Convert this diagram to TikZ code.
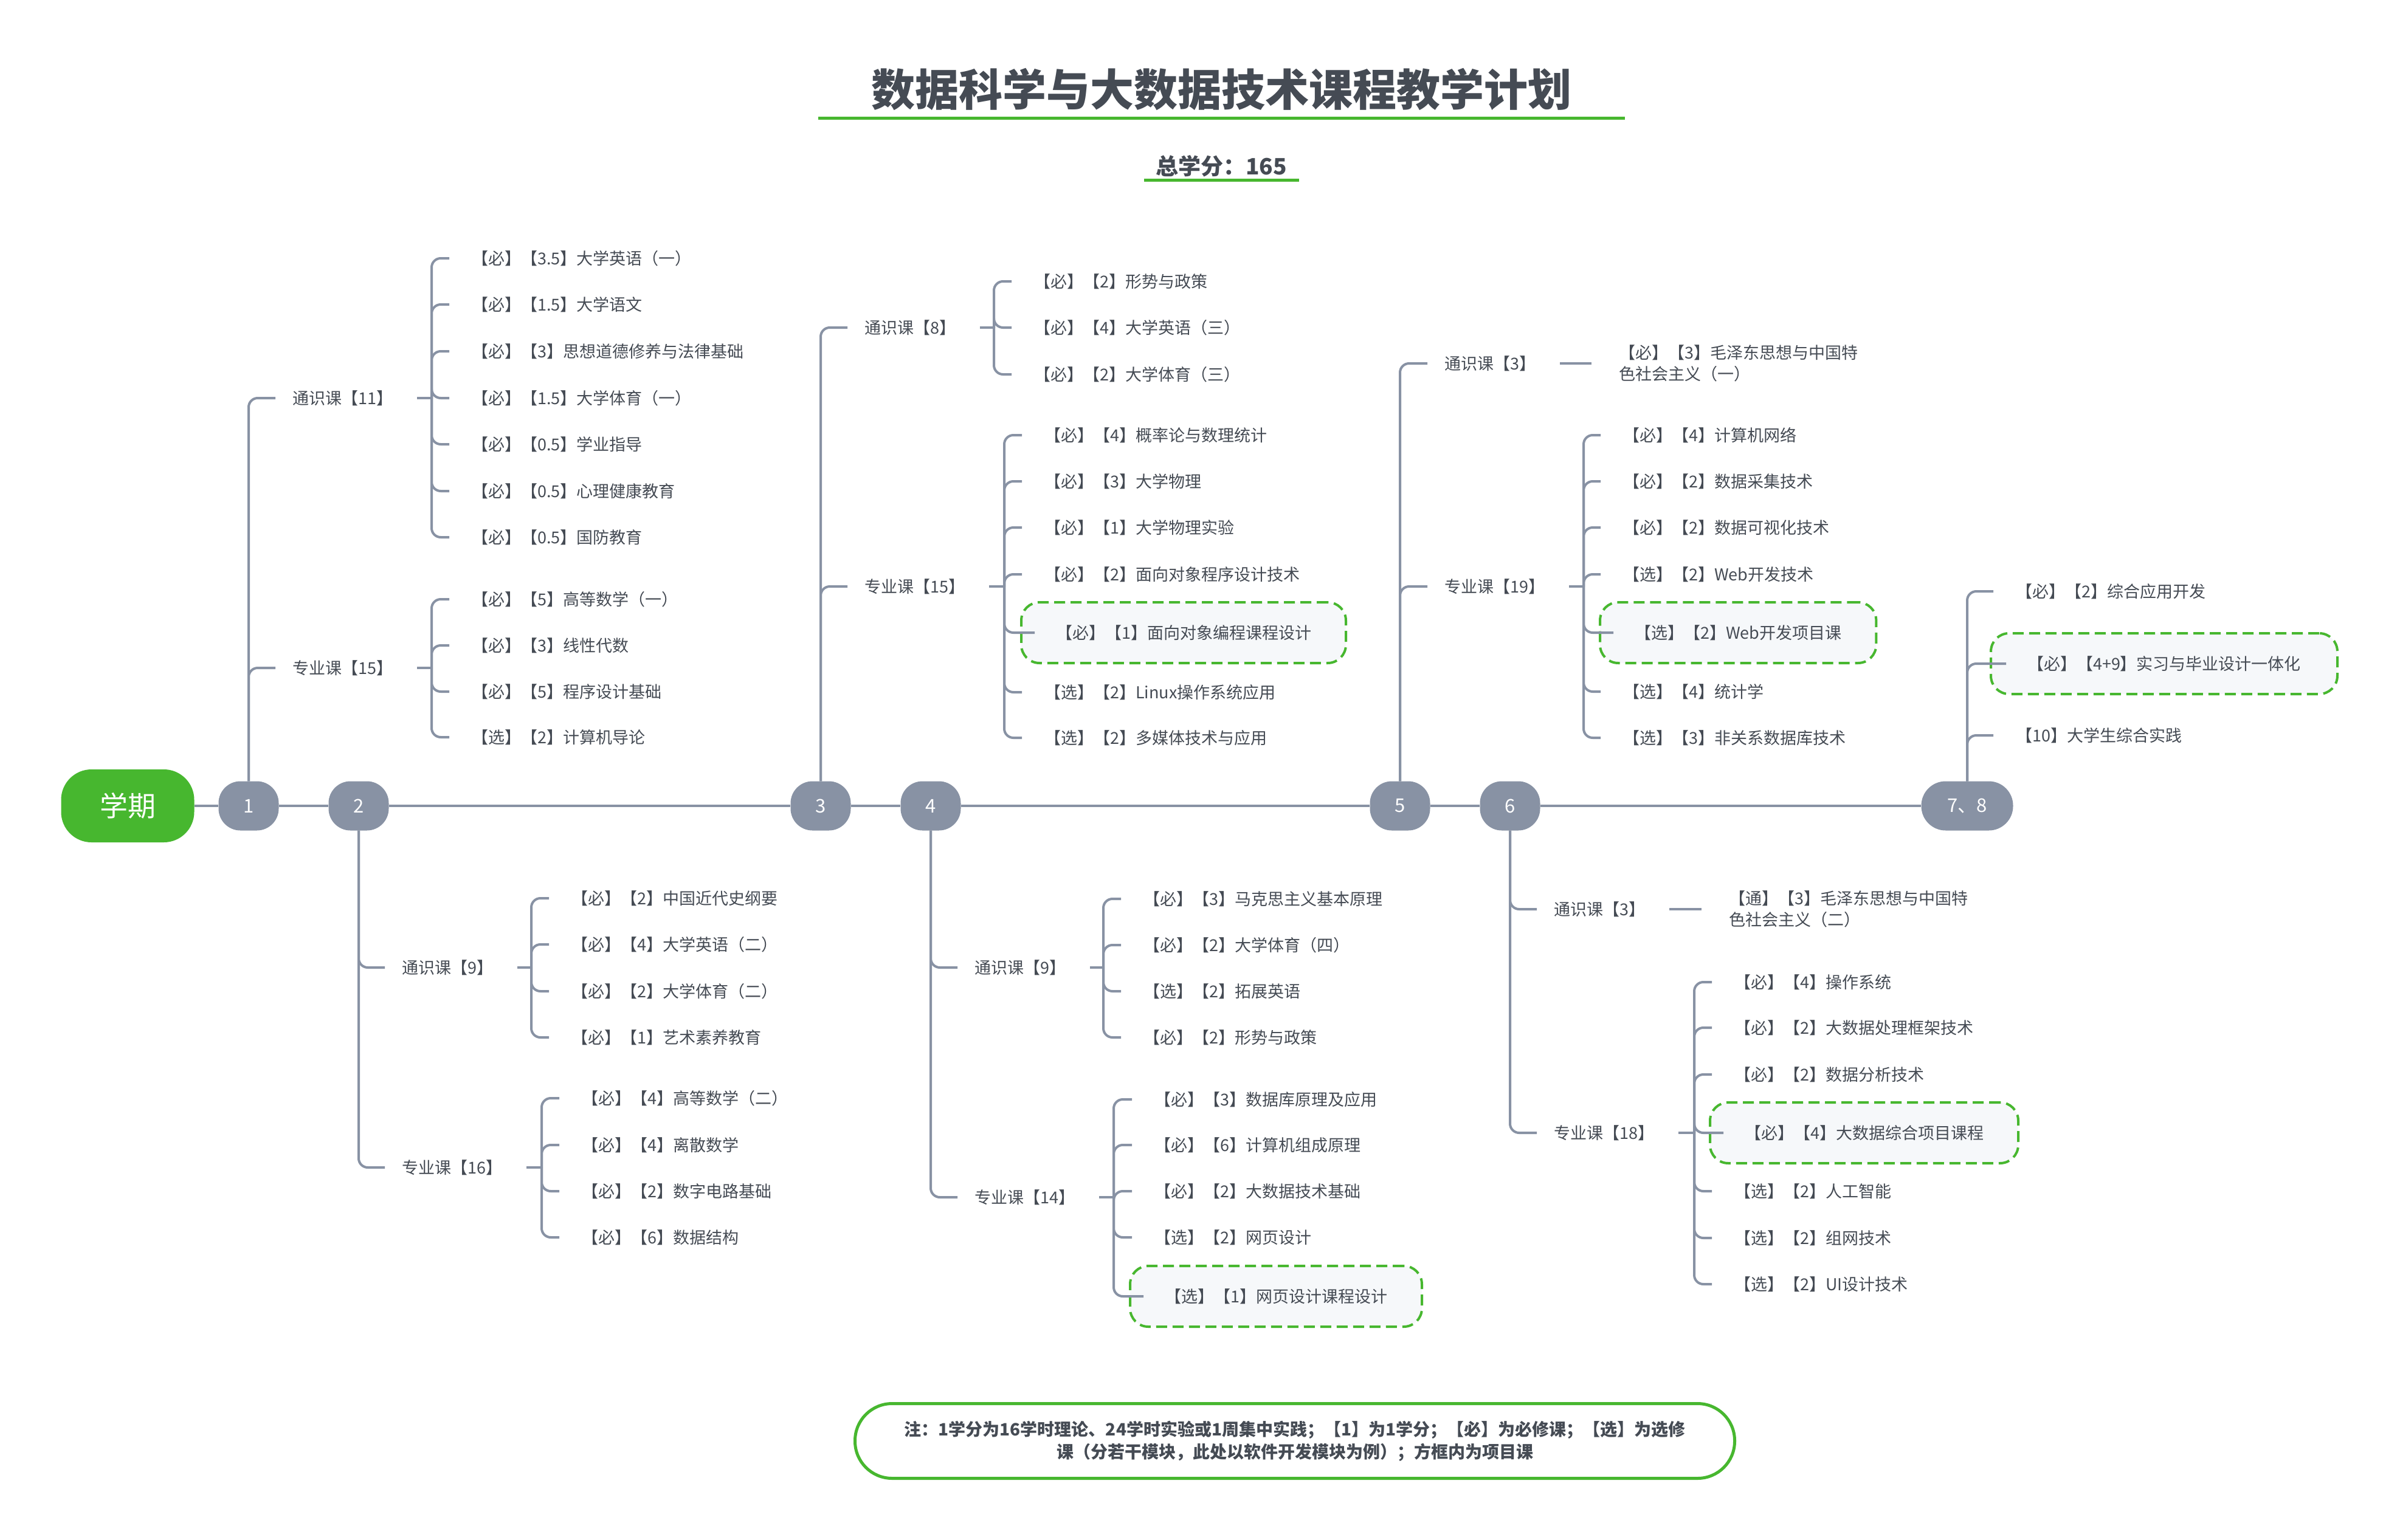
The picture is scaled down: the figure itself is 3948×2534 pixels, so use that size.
\documentclass[tikz,border=0pt]{standalone}
\usepackage{fontspec}
\setmainfont{Noto Sans CJK SC}
\definecolor{tdark}{HTML}{454B54}
\definecolor{lgrey}{HTML}{8892A4}
\definecolor{hgreen}{HTML}{47B72F}
\definecolor{boxfill}{HTML}{F6F8FA}
\begin{document}
\begin{tikzpicture}[x=1pt,y=-1pt,
  base/.style={font=\fontsize{27}{35}\selectfont, text=tdark},
  cat/.style={base, anchor=west, inner sep=0pt, text height=24pt, text depth=3.5pt},
  item/.style={base, anchor=west, inner xsep=37pt, inner ysep=0pt, text height=24pt, text depth=3.5pt},
  mitem/.style={base, anchor=west, inner xsep=45pt, inner ysep=0pt, align=left},
  hbox/.style={base, anchor=west, draw=hgreen, fill=boxfill, line width=4pt, dash pattern=on 18pt off 9pt, rounded corners=30pt, inner xsep=57pt, minimum height=100pt, text height=24pt, text depth=3.5pt},
  sem/.style={fill=lgrey, text=white, rounded corners=36pt, minimum width=99pt, minimum height=81pt, inner sep=0pt, font=\fontsize{31}{31}\selectfont},
  conn/.style={draw=lgrey, line width=4pt, rounded corners=15pt},
  uline/.style={draw=hgreen, line width=5pt},
]
\fill[white] (0,0) rectangle (3948,2534);
\useasboundingbox (0,0) rectangle (3948,2534);

% title
\node[font=\fontsize{72}{80}\selectfont\bfseries, text=tdark, inner sep=0pt] (title) at (2009,147) {数据科学与大数据技术课程教学计划};
\draw[uline] (1346,195) -- (2673,195);
\node[font=\fontsize{37}{40}\selectfont\bfseries, text=tdark, inner sep=0pt] (total) at (2009,273) {总学分：165};
\draw[uline] (1882,296) -- (2137,296);

% timeline nodes
\node[fill=hgreen, text=white, rounded corners=50pt, minimum width=219pt, minimum height=120pt, inner sep=0pt, font=\fontsize{46}{46}\selectfont] (xq) at (210,1326) {学期};
\node[sem] (n1) at (409,1326) {1};
\node[sem] (n2) at (590,1326) {2};
\node[sem] (n3) at (1350,1326) {3};
\node[sem] (n4) at (1531,1326) {4};
\node[sem] (n5) at (2303,1326) {5};
\node[sem] (n6) at (2484,1326) {6};
\node[sem, minimum width=151pt, rounded corners=40pt] (n78) at (3236,1326) {7、8};

% ---------- semester 1 ----------
\node[cat] (c1a) at (481,655) {通识课【11】};
\node[cat] (c1b) at (481,1099) {专业课【15】};
\coordinate (j1a) at (710,655);
\coordinate (j1b) at (710,1099);
\node[item] (i1a1) at (739,425) {【必】【3.5】大学英语（一）};
\node[item] (i1a2) at (739,501) {【必】【1.5】大学语文};
\node[item] (i1a3) at (739,578) {【必】【3】思想道德修养与法律基础};
\node[item] (i1a4) at (739,655) {【必】【1.5】大学体育（一）};
\node[item] (i1a5) at (739,731) {【必】【0.5】学业指导};
\node[item] (i1a6) at (739,808) {【必】【0.5】心理健康教育};
\node[item] (i1a7) at (739,884) {【必】【0.5】国防教育};
\node[item] (i1b1) at (739,986) {【必】【5】高等数学（一）};
\node[item] (i1b2) at (739,1062) {【必】【3】线性代数};
\node[item] (i1b3) at (739,1138) {【必】【5】程序设计基础};
\node[item] (i1b4) at (739,1213) {【选】【2】计算机导论};

% ---------- semester 2 ----------
\node[cat] (c2a) at (661,1592) {通识课【9】};
\node[cat] (c2b) at (661,1921) {专业课【16】};
\coordinate (j2a) at (874,1592);
\coordinate (j2b) at (891,1921);
\node[item] (i2a1) at (903,1478) {【必】【2】中国近代史纲要};
\node[item] (i2a2) at (903,1554) {【必】【4】大学英语（二）};
\node[item] (i2a3) at (903,1631) {【必】【2】大学体育（二）};
\node[item] (i2a4) at (903,1707) {【必】【1】艺术素养教育};
\node[item] (i2b1) at (920,1807) {【必】【4】高等数学（二）};
\node[item] (i2b2) at (920,1884) {【必】【4】离散数学};
\node[item] (i2b3) at (920,1960) {【必】【2】数字电路基础};
\node[item] (i2b4) at (920,2036) {【必】【6】数据结构};

% ---------- semester 3 ----------
\node[cat] (c3a) at (1422,539) {通识课【8】};
\node[cat] (c3b) at (1422,965) {专业课【15】};
\coordinate (j3a) at (1635,539);
\coordinate (j3b) at (1652,965);
\node[item] (i3a1) at (1664,463) {【必】【2】形势与政策};
\node[item] (i3a2) at (1664,539) {【必】【4】大学英语（三）};
\node[item] (i3a3) at (1664,616) {【必】【2】大学体育（三）};
\node[item] (i3b1) at (1681,716) {【必】【4】概率论与数理统计};
\node[item] (i3b2) at (1681,792) {【必】【3】大学物理};
\node[item] (i3b3) at (1681,868) {【必】【1】大学物理实验};
\node[item] (i3b4) at (1681,945) {【必】【2】面向对象程序设计技术};
\node[hbox] (h3) at (1678,1041) {【必】【1】面向对象编程课程设计};
\node[item] (i3b6) at (1681,1139) {【选】【2】Linux操作系统应用};
\node[item] (i3b7) at (1681,1214) {【选】【2】多媒体技术与应用};

% ---------- semester 4 ----------
\node[cat] (c4a) at (1603,1592) {通识课【9】};
\node[cat] (c4b) at (1603,1970) {专业课【14】};
\coordinate (j4a) at (1815,1592);
\coordinate (j4b) at (1832,1970);
\node[item] (i4a1) at (1844,1479) {【必】【3】马克思主义基本原理};
\node[item] (i4a2) at (1844,1555) {【必】【2】大学体育（四）};
\node[item] (i4a3) at (1844,1631) {【选】【2】拓展英语};
\node[item] (i4a4) at (1844,1707) {【必】【2】形势与政策};
\node[item] (i4b1) at (1862,1809) {【必】【3】数据库原理及应用};
\node[item] (i4b2) at (1862,1884) {【必】【6】计算机组成原理};
\node[item] (i4b3) at (1862,1960) {【必】【2】大数据技术基础};
\node[item] (i4b4) at (1862,2036) {【选】【2】网页设计};
\node[hbox] (h4) at (1857,2133) {【选】【1】网页设计课程设计};

% ---------- semester 5 ----------
\node[cat] (c5a) at (2376,598) {通识课【3】};
\node[cat] (c5b) at (2376,965) {专业课【19】};
\node[mitem] (t5) at (2618,598) {【必】【3】毛泽东思想与中国特\\色社会主义（一）};
\coordinate (j5b) at (2605,965);
\node[item] (i5b1) at (2633,716) {【必】【4】计算机网络};
\node[item] (i5b2) at (2633,792) {【必】【2】数据采集技术};
\node[item] (i5b3) at (2633,868) {【必】【2】数据可视化技术};
\node[item] (i5b4) at (2633,945) {【选】【2】Web开发技术};
\node[hbox] (h5) at (2630,1041) {【选】【2】Web开发项目课};
\node[item] (i5b6) at (2633,1138) {【选】【4】统计学};
\node[item] (i5b7) at (2633,1214) {【选】【3】非关系数据库技术};

% ---------- semester 6 ----------
\node[cat] (c6a) at (2556,1496) {通识课【3】};
\node[cat] (c6b) at (2556,1864) {专业课【18】};
\node[mitem] (t6) at (2799,1496) {【通】【3】毛泽东思想与中国特\\色社会主义（二）};
\coordinate (j6b) at (2787,1864);
\node[item] (i6b1) at (2816,1616) {【必】【4】操作系统};
\node[item] (i6b2) at (2816,1691) {【必】【2】大数据处理框架技术};
\node[item] (i6b3) at (2816,1768) {【必】【2】数据分析技术};
\node[hbox] (h6) at (2811,1864) {【必】【4】大数据综合项目课程};
\node[item] (i6b5) at (2816,1960) {【选】【2】人工智能};
\node[item] (i6b6) at (2816,2037) {【选】【2】组网技术};
\node[item] (i6b7) at (2816,2113) {【选】【2】UI设计技术};

% ---------- semester 7, 8 ----------
\node[item] (i71) at (3279,973) {【必】【2】综合应用开发};
\node[hbox, inner xsep=60pt] (h7) at (3273,1092) {【必】【4+9】实习与毕业设计一体化};
\node[item] (i73) at (3279,1210) {【10】大学生综合实践};

% note
\node[draw=hgreen, line width=5pt, rounded corners=61pt, minimum width=1447pt, minimum height=123pt, align=center, text=tdark, font=\fontsize{28}{37}\selectfont\bfseries] (note) at (2130,2371) {注：1学分为16学时理论、24学时实验或1周集中实践；【1】为1学分；【必】为必修课；【选】为选修\\课（分若干模块，此处以软件开发模块为例）；方框内为项目课};

% ---------- connectors ----------
\draw[conn] (xq.east) -- (n1.west) (n1.east) -- (n2.west) (n2.east) -- (n3.west) (n3.east) -- (n4.west) (n4.east) -- (n5.west) (n5.east) -- (n6.west) (n6.east) -- (n78.west);

% trunks
\foreach \n/\c in {n1/c1a, n1/c1b, n3/c3a, n3/c3b, n5/c5a, n5/c5b}
  \draw[conn] (\n.north) |- ([xshift=-28pt]\c.west);
\foreach \n/\c in {n2/c2a, n2/c2b, n4/c4a, n4/c4b, n6/c6a, n6/c6b}
  \draw[conn] (\n.south) |- ([xshift=-28pt]\c.west);

% stubs
\foreach \c/\j in {c1a/j1a, c1b/j1b, c2a/j2a, c2b/j2b, c3a/j3a, c3b/j3b, c4a/j4a, c4b/j4b, c5b/j5b, c6b/j6b}
  \draw[conn] ([xshift=40pt]\c.east) -- (\j);
\draw[conn] ([xshift=40pt]c5a.east) -- (t5.west);
\draw[conn] ([xshift=40pt]c6a.east) -- (t6.west);

% children
\foreach \i in {i1a1,i1a2,i1a3,i1a4,i1a5,i1a6,i1a7} \draw[conn] (j1a) |- (\i.west);
\foreach \i in {i1b1,i1b2,i1b3,i1b4} \draw[conn] (j1b) |- (\i.west);
\foreach \i in {i2a1,i2a2,i2a3,i2a4} \draw[conn] (j2a) |- (\i.west);
\foreach \i in {i2b1,i2b2,i2b3,i2b4} \draw[conn] (j2b) |- (\i.west);
\foreach \i in {i3a1,i3a2,i3a3} \draw[conn] (j3a) |- (\i.west);
\foreach \i in {i3b1,i3b2,i3b3,i3b4,i3b6,i3b7} \draw[conn] (j3b) |- (\i.west);
\draw[conn] (j3b) |- ([xshift=24pt]h3.west);
\foreach \i in {i4a1,i4a2,i4a3,i4a4} \draw[conn] (j4a) |- (\i.west);
\foreach \i in {i4b1,i4b2,i4b3,i4b4} \draw[conn] (j4b) |- (\i.west);
\draw[conn] (j4b) |- ([xshift=24pt]h4.west);
\foreach \i in {i5b1,i5b2,i5b3,i5b4,i5b6,i5b7} \draw[conn] (j5b) |- (\i.west);
\draw[conn] (j5b) |- ([xshift=24pt]h5.west);
\foreach \i in {i6b1,i6b2,i6b3,i6b5,i6b6,i6b7} \draw[conn] (j6b) |- (\i.west);
\draw[conn] (j6b) |- ([xshift=24pt]h6.west);
\draw[conn] (n78.north) |- (i71.west);
\draw[conn] (n78.north) |- ([xshift=27pt]h7.west);
\draw[conn] (n78.north) |- (i73.west);
\end{tikzpicture}
\end{document}
